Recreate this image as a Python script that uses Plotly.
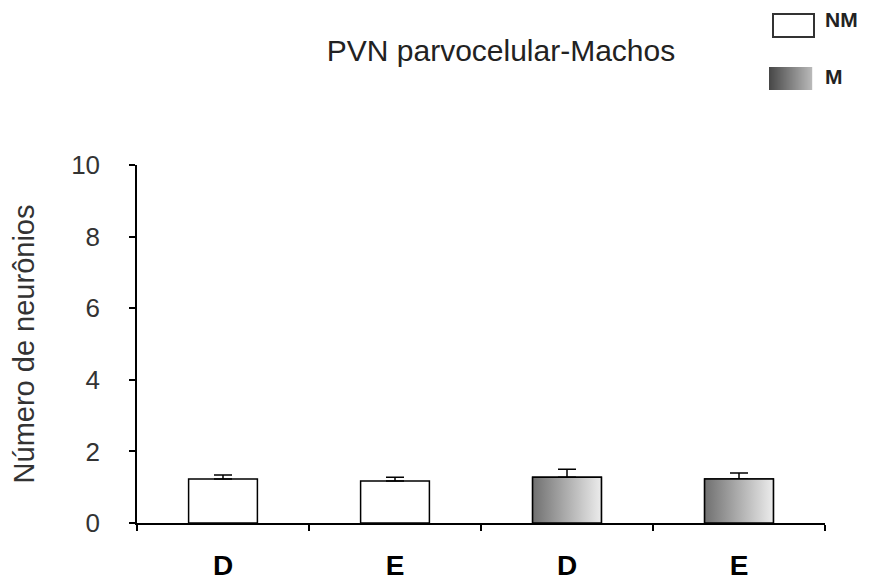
import plotly.graph_objects as go

# Data
labels = ["D", "E", "D", "E"]
nm_values = [1.23, 1.17]
nm_errors = [0.11, 0.11]
m_values = [1.28, 1.23]
m_errors = [0.22, 0.17]

nm_x = [1, 2]
m_x = [3, 4]
bar_w = 0.4

fig = go.Figure()

fig.add_trace(go.Bar(
    x=nm_x, y=nm_values, width=bar_w, name="NM",
    marker=dict(color="white", line=dict(color="black", width=1.5)),
    error_y=dict(type="data", array=nm_errors, arrayminus=[0, 0], symmetric=False,
                 color="black", thickness=1.5, width=9),
    showlegend=False,
))

fig.add_trace(go.Bar(
    x=m_x, y=m_values, width=bar_w, name="M",
    marker=dict(color="#aaaaaa", line=dict(color="black", width=1.5)),
    error_y=dict(type="data", array=m_errors, arrayminus=[0, 0], symmetric=False,
                 color="black", thickness=1.5, width=9),
    showlegend=False,
))

# gradient fill on top of the M bars
for xc, v in zip(m_x, m_values):
    fig.add_trace(go.Scatter(
        x=[xc - bar_w / 2, xc + bar_w / 2, xc + bar_w / 2, xc - bar_w / 2, xc - bar_w / 2],
        y=[0, 0, v, v, 0],
        mode="lines", fill="toself",
        fillgradient=dict(type="horizontal",
                          colorscale=[[0, "#707070"], [1, "#ececec"]]),
        line=dict(color="black", width=1.5),
        showlegend=False, hoverinfo="skip",
    ))

font = "Liberation Sans, Arial, sans-serif"

# page body has an 8px margin, so the figure is 8px smaller than the window
fig.update_layout(
    width=864, height=580,
    margin=dict(l=129, r=47, t=157, b=65),
    plot_bgcolor="white", paper_bgcolor="white",
    font=dict(family=font, color="#222"),
    showlegend=False,
    title=dict(text="PVN parvocelular-Machos", x=0.5706, xanchor="center",
               y=0.927, yanchor="middle", font=dict(size=30, color="#222")),
    xaxis=dict(
        range=[0.5, 4.5], tickvals=[1, 2, 3, 4], ticktext=labels,
        ticks="", showgrid=False, zeroline=False, automargin=False,
        showline=True, linecolor="black", linewidth=1.5,
        tickfont=dict(size=28, color="black", weight="bold"),
        ticklabelstandoff=17,
        minor=dict(tick0=0.5, dtick=1, ticks="outside", ticklen=6,
                   tickcolor="black", tickwidth=1.5, showgrid=False),
    ),
    yaxis=dict(
        range=[0, 10], tickvals=[0, 2, 4, 6, 8, 10],
        ticks="outside", ticklen=6, tickcolor="black", tickwidth=1.5,
        showgrid=False, zeroline=False, automargin=False,
        showline=True, linecolor="black", linewidth=1.5,
        tickfont=dict(size=26, color="#333"),
        ticklabelstandoff=24,
        title=dict(text="Número de neurônios", font=dict(size=29, color="#333"), standoff=28),
    ),
)

# legend drawn by hand (top right), positions in screen pixels
def px_x(p):
    return (p - 137) / 688

def px_y(p):
    return (523 - p) / 358

fig.add_shape(type="rect", xref="paper", yref="paper",
              x0=px_x(773), x1=px_x(814), y0=px_y(37), y1=px_y(14),
              line=dict(color="#333", width=2), fillcolor="white")
steps = 43
for i in range(steps):
    g = int(0x48 + (0xb8 - 0x48) * i / (steps - 1))
    fig.add_shape(type="rect", xref="paper", yref="paper",
                  x0=px_x(769 + i), x1=px_x(769 + i + 1.2),
                  y0=px_y(90), y1=px_y(67),
                  line=dict(width=0), fillcolor=f"rgb({g},{g},{g})")
fig.add_annotation(text="<b>NM</b>", xref="paper", yref="paper",
                   x=px_x(823), y=px_y(20), xanchor="left", yanchor="middle",
                   showarrow=False, font=dict(size=21, color="#222"))
fig.add_annotation(text="<b>M</b>", xref="paper", yref="paper",
                   x=px_x(823), y=px_y(76), xanchor="left", yanchor="middle",
                   showarrow=False, font=dict(size=21, color="#222"))

fig.write_html("out.html")
